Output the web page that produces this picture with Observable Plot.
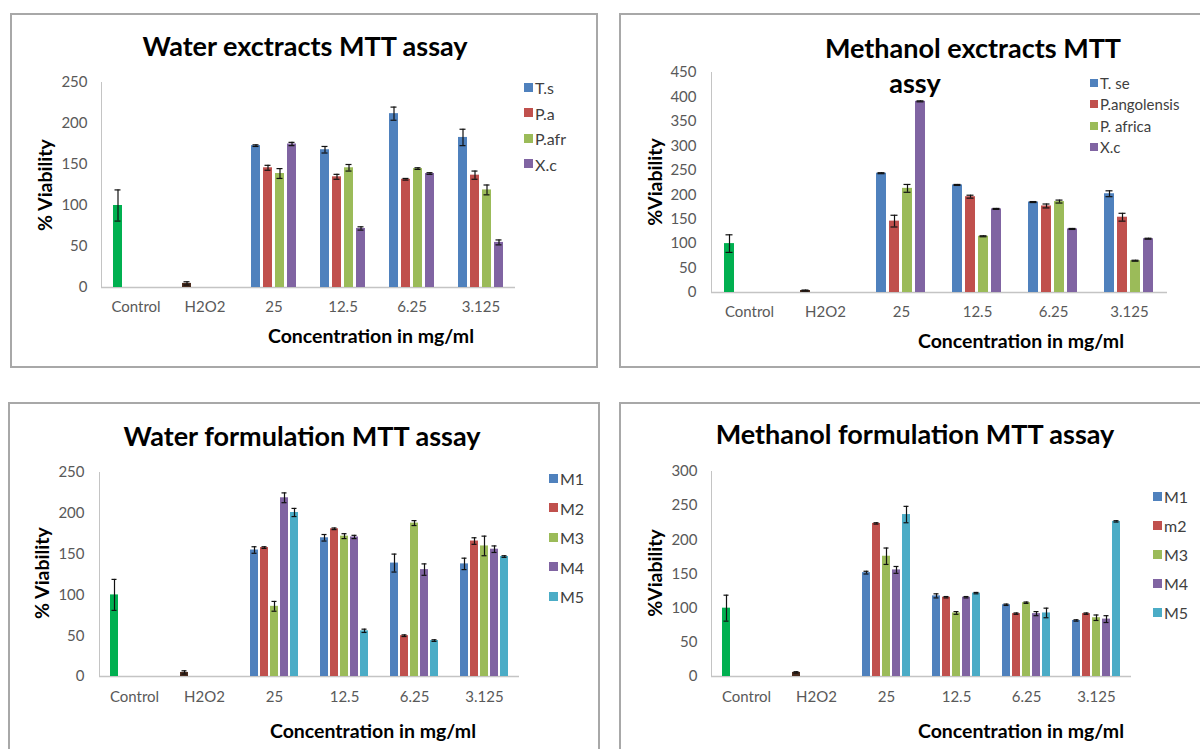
<!DOCTYPE html>
<html>
<head>
<meta charset="utf-8">
<script src="https://cdn.jsdelivr.net/npm/d3@7"></script>
<script src="https://cdn.jsdelivr.net/npm/@observablehq/plot@0.6"></script>
<style>
  html, body { margin: 0; padding: 0; background: #fff; overflow: hidden; }
  #root { position: relative; width: 1200px; height: 749px; overflow: hidden; font-family: Lato, "Open Sans", sans-serif; }
  .box { position: absolute; border: 2px solid #a8a8a8; box-sizing: border-box; }
  .abs { position: absolute; white-space: nowrap; }
  .title { font-weight: bold; font-size: 27px; color: #000; transform: translate(-50%, -50%); }
  .xtitle { font-weight: bold; font-size: 19.5px; color: #000; transform: translate(-50%, -50%); }
  .ytitle { font-weight: bold; font-size: 19.5px; color: #000; transform: translate(-50%, -50%) rotate(-90deg); }
  .leg { color: #404040; }
  .leg .sw { position: absolute; width: 9px; height: 9px; }
  .leg .lt { position: absolute; transform: translateY(-50%); }
  .plotwrap { position: absolute; }
  .plotwrap svg { overflow: visible; max-width: none !important; }
  .plotwrap svg text { fill: #595959; }
</style>
</head>
<body>
<div id="root"></div>
<script>
// ---------- Data ----------
const cats = ["Control", "H2O2", "25", "12.5", "6.25", "3.125"];
const concCats = ["25", "12.5", "6.25", "3.125"];

// Control / H2O2 bars, one value per panel (water extracts, methanol extracts, water formulation, methanol formulation)
const controlValues = [100, 100, 100, 100];
const controlErrors = [19, 18, 19, 19];
const h2o2Values = [5, 4, 5, 6];
const h2o2Errors = [2, 1, 2, 1];

// Panel 1: Water extracts
const waterExtractSeries = ["T.s", "P.a", "P.afr", "X.c"];
const waterExtractValues = [
  [173, 168, 212, 183],
  [146, 135, 132, 137],
  [139, 146, 145, 119],
  [175, 72, 139, 55]
];
const waterExtractErrors = [
  [1, 4, 8, 10],
  [3, 3, 1, 5],
  [6, 4, 1, 6],
  [2, 2, 1, 3]
];

// Panel 2: Methanol extracts
const methanolExtractSeries = ["T. se", "P.angolensis", "P. africa", "X.c"];
const methanolExtractValues = [
  [244, 220, 185, 202],
  [146, 196, 177, 154],
  [213, 115, 186, 65],
  [391, 171, 130, 110]
];
const methanolExtractErrors = [
  [1, 1, 1, 6],
  [12, 3, 4, 8],
  [8, 1, 3, 1],
  [1, 1, 1, 1]
];

// Panel 3: Water formulation
const waterFormSeries = ["M1", "M2", "M3", "M4", "M5"];
const waterFormValues = [
  [155, 170, 139, 138],
  [158, 181, 50, 166],
  [86, 172, 188, 160],
  [219, 171, 131, 156],
  [201, 56, 44, 147]
];
const waterFormErrors = [
  [4, 4, 11, 7],
  [1, 1, 1, 4],
  [6, 3, 3, 12],
  [6, 2, 7, 4],
  [5, 2, 1, 1]
];

// Panel 4: Methanol formulation
const methanolFormSeries = ["M1", "m2", "M3", "M4", "M5"];
const methanolFormValues = [
  [152, 118, 105, 82],
  [224, 116, 92, 92],
  [176, 93, 108, 86],
  [156, 116, 92, 84],
  [237, 122, 93, 227]
];
const methanolFormErrors = [
  [2, 3, 1, 1],
  [1, 1, 1, 1],
  [12, 2, 1, 4],
  [5, 1, 3, 5],
  [12, 1, 7, 1]
];

const seriesColors = ["#4F81BD", "#C0504D", "#9BBB59", "#8064A2", "#4BACC6"];
const controlColor = "#00B050";
const h2o2Color = "#4A2C1E";

// ---------- Layout ----------
const root = document.getElementById("root");

function el(cls, css, html) {
  const d = document.createElement("div");
  d.className = cls;
  Object.assign(d.style, css);
  if (html != null) d.innerHTML = html;
  root.appendChild(d);
  return d;
}

function makePanel(cfg) {
  const { idx, series, values, errors } = cfg;
  const rows = [];
  rows.push({ cat: "Control", series: series[0], v: controlValues[idx], e: controlErrors[idx], key: "Control" });
  rows.push({ cat: "H2O2", series: series[0], v: h2o2Values[idx], e: h2o2Errors[idx], key: "H2O2" });
  concCats.forEach((c, i) => {
    series.forEach((s, j) => {
      rows.push({ cat: c, series: s, v: values[j][i], e: errors[j][i], key: s });
    });
  });

  const b = cfg.box, p = cfg.plot;
  el("box", { left: b.left + "px", top: b.top + "px", width: b.w + "px", height: b.h + "px" });

  const chart = Plot.plot({
    width: b.w,
    height: b.h,
    marginLeft: p.x0 - b.left,
    marginRight: b.left + b.w - p.x1,
    marginTop: p.yTop - b.top,
    marginBottom: b.top + b.h - p.yBase,
    style: { fontFamily: "Lato, 'Open Sans', sans-serif", fontSize: "15px", color: "#c4c4c4", background: "transparent", overflow: "visible", maxWidth: "none" },
    fx: { domain: cats, padding: 0, axis: "bottom", tickSize: 0, tickPadding: cfg.fxPad, label: null },
    x: { domain: series, axis: null, paddingInner: cfg.pi, paddingOuter: cfg.po },
    y: { domain: [0, cfg.ymax], ticks: d3.range(0, cfg.ymax + 1, 50), tickSize: 0, tickPadding: p.x0 - p.labelRight, line: true, label: null, nice: false },
    color: { domain: [...series, "Control", "H2O2"], range: [...seriesColors.slice(0, series.length), controlColor, h2o2Color] },
    marks: [
      Plot.ruleY([0], { stroke: "#c4c4c4", strokeWidth: 1.5 }),
      Plot.barY(rows, { fx: "cat", x: "series", y: "v", fill: "key" }),
      Plot.ruleX(rows, { fx: "cat", x: "series", y1: d => d.v - d.e, y2: d => d.v + d.e, stroke: "#111", strokeWidth: 1.2 }),
      Plot.tickY(rows, { fx: "cat", x: "series", y: d => d.v + d.e, stroke: "#111", strokeWidth: 1.2, insetLeft: 1.5, insetRight: 1.5 }),
      Plot.tickY(rows, { fx: "cat", x: "series", y: d => d.v - d.e, stroke: "#111", strokeWidth: 1.2, insetLeft: 1.5, insetRight: 1.5 })
    ]
  });
  const wrap = el("plotwrap", { left: b.left + "px", top: b.top + "px", width: b.w + "px", height: b.h + "px" });
  wrap.appendChild(chart);

  // titles
  cfg.titles.forEach(t => el("abs title", { left: t.x + "px", top: t.y + "px" }, t.text));
  el("abs xtitle", { left: cfg.xTitle.x + "px", top: cfg.xTitle.y + "px" }, "Concentration in mg/ml");
  el("abs ytitle", { left: cfg.yTitle.x + "px", top: cfg.yTitle.y + "px" }, cfg.yTitle.text);

  // legend
  const L = cfg.legend;
  series.forEach((s, j) => {
    const cy = L.y + j * L.dy;
    el("abs leg", { left: "0px", top: "0px" },
      `<div class="sw" style="left:${L.x}px;top:${cy - L.sw / 2}px;width:${L.sw}px;height:${L.sw}px;background:${seriesColors[j]}"></div>` +
      `<div class="lt" style="left:${L.x + L.sw + 2}px;top:${cy}px;font-size:${L.fs}px">${s}</div>`);
  });
}

makePanel({
  idx: 0, series: waterExtractSeries, values: waterExtractValues, errors: waterExtractErrors,
  box: { left: 10, top: 13, w: 588, h: 355 },
  plot: { x0: 100, x1: 515, yTop: 82, yBase: 287, labelRight: 86 },
  ymax: 250, pi: 0.27, po: 0.86, fxPad: 14,
  titles: [{ x: 305, y: 45, text: "Water exctracts MTT assay" }],
  xTitle: { x: 371, y: 335 },
  yTitle: { x: 44, y: 185, text: "% Viability" },
  legend: { x: 524, y: 87, dy: 25.5, sw: 9, fs: 16 }
});

makePanel({
  idx: 1, series: methanolExtractSeries, values: methanolExtractValues, errors: methanolExtractErrors,
  box: { left: 619, top: 13, w: 600, h: 355 },
  plot: { x0: 710, x1: 1168, yTop: 72, yBase: 292, labelRight: 695 },
  ymax: 450, pi: 0.21, po: 0.83, fxPad: 14,
  titles: [{ x: 973, y: 47, text: "Methanol exctracts MTT" }, { x: 915, y: 82, text: "assy" }],
  xTitle: { x: 1021, y: 340 },
  yTitle: { x: 654, y: 182, text: "%Viability" },
  legend: { x: 1090, y: 83, dy: 21.3, sw: 8, fs: 15 }
});

makePanel({
  idx: 2, series: waterFormSeries, values: waterFormValues, errors: waterFormErrors,
  box: { left: 8, top: 402, w: 592, h: 360 },
  plot: { x0: 97, x1: 520, yTop: 472, yBase: 676, labelRight: 82 },
  ymax: 250, pi: 0.25, po: 0.95, fxPad: 15,
  titles: [{ x: 302, y: 435, text: "Water formulation MTT assay" }],
  xTitle: { x: 373, y: 730 },
  yTitle: { x: 41, y: 573, text: "% Viability" },
  legend: { x: 549, y: 478, dy: 29.5, sw: 9, fs: 16 }
});

makePanel({
  idx: 3, series: methanolFormSeries, values: methanolFormValues, errors: methanolFormErrors,
  box: { left: 619, top: 402, w: 600, h: 360 },
  plot: { x0: 709, x1: 1132, yTop: 471, yBase: 676, labelRight: 695 },
  ymax: 300, pi: 0.25, po: 0.95, fxPad: 15,
  titles: [{ x: 915, y: 433, text: "Methanol formulation MTT assay" }],
  xTitle: { x: 1021, y: 730 },
  yTitle: { x: 654, y: 573, text: "%Viability" },
  legend: { x: 1153, y: 496, dy: 29, sw: 9, fs: 16 }
});
</script>
</body>
</html>
